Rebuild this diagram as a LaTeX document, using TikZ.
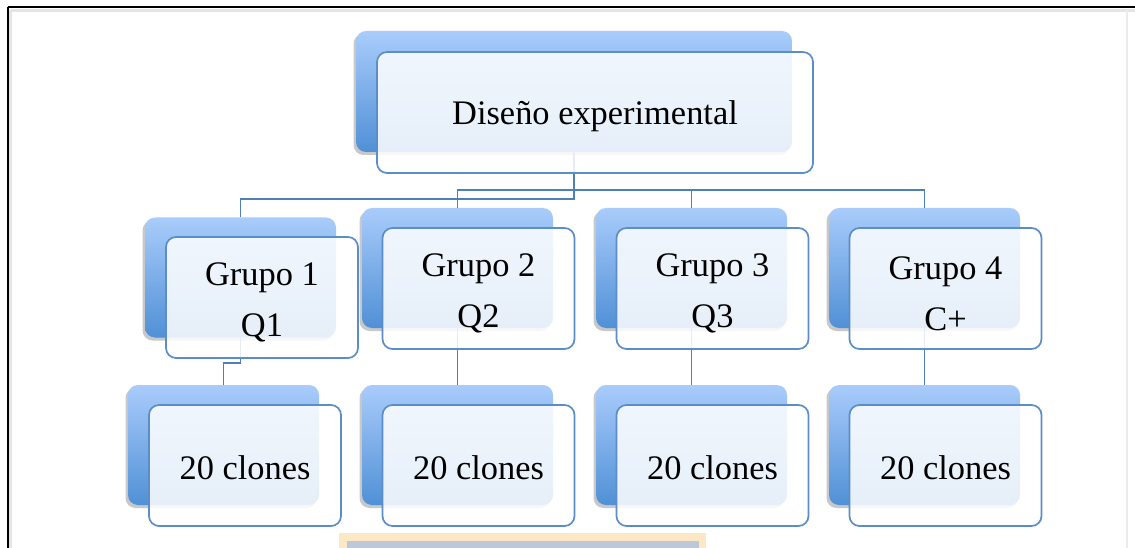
\documentclass[tikz,border=0pt]{standalone}
\usepackage{fontspec}
\setmainfont{Liberation Serif}
\usetikzlibrary{shadows}
\definecolor{backtop}{HTML}{A9CCFB}
\definecolor{backbot}{HTML}{5090D6}
\definecolor{frontline}{HTML}{5B8DC8}
\definecolor{linkblue}{HTML}{4F7FB8}
\definecolor{tanline}{HTML}{FDE8C6}
\definecolor{slatefill}{HTML}{BCC8D9}
\tikzset{
  backbox/.style={rectangle, rounded corners=10pt, minimum width=191pt, minimum height=120pt,
    top color=backtop, bottom color=backbot, draw=none,
    drop shadow={shadow xshift=-2.5pt, shadow yshift=-3pt, opacity=0.3, fill=black!70}},
  bigback/.style={backbox, minimum width=436pt, minimum height=121pt},
  frontbox/.style={rectangle, rounded corners=10pt, minimum width=192pt, minimum height=121pt,
    fill=white, fill opacity=0.86, draw=frontline, line width=1.7pt, inner sep=0pt},
  bigfront/.style={frontbox, minimum width=436pt},
  lbl/.style={align=center, font=\fontsize{34.4}{51}\selectfont, inner sep=0pt, text=black},
  link/.style={draw=linkblue, line width=1.9pt}
}
\begin{document}
\begin{tikzpicture}[x=1pt,y=-1pt]
\useasboundingbox (0,0) rectangle (1135,548);
\clip (0,0) rectangle (1135,548);
\fill[white] (0,0) rectangle (1135,548);
% frame
\draw[black!10, line width=3pt] (10.5,10.5) -- (1135,10.5);
\draw[black!10, line width=3pt] (10.5,10.5) -- (10.5,548);
\draw[black!8, line width=1.5pt] (1127,10) -- (1127,548);
\draw[black, line width=2pt] (8,7) -- (1135,7);
\draw[black, line width=2pt] (8,7) -- (8,548);
% bottom partial box
\fill[tanline] (339,533) rectangle (706,560);
\fill[slatefill] (347,541) rectangle (699,560);
% back boxes
\node[bigback] (b0) at (574,91.5) {};
\node[backbox] (b1) at (240.5,277.5) {};
\node[backbox] (b2) at (457.5,268) {};
\node[backbox] (b3) at (691.5,268) {};
\node[backbox] (b4) at (924.5,268) {};
\node[backbox] (c1) at (223.5,445) {};
\node[backbox] (c2) at (457.5,445) {};
\node[backbox] (c3) at (691.5,445) {};
\node[backbox] (c4) at (924.5,445) {};
% connectors
\coordinate (j1) at (574,199);
\coordinate (j2) at (574,190);
\coordinate (k1) at (240.5,363);
\draw[link] (b0.south) -- (j1) -| (b1.north);
\draw[link] (b0.south) -- (j2) -| (b2.north);
\draw[link] (j2) -| (b3.north);
\draw[link] (j2) -| (b4.north);
\draw[link] (b1.south) -- (k1) -| (c1.north);
\draw[link] (b2.south) -- (c2.north);
\draw[link] (b3.south) -- (c3.north);
\draw[link] (b4.south) -- (c4.north);
% front boxes
\node[bigfront] (f0) at (595,112.5) {};
\node[frontbox] (g1) at (262,297.5) {};
\node[frontbox] (g2) at (478.5,288.5) {};
\node[frontbox] (g3) at (712.5,288.5) {};
\node[frontbox] (g4) at (945.5,288.5) {};
\node[frontbox] (h1) at (245,465.5) {};
\node[frontbox] (h2) at (478.5,465.5) {};
\node[frontbox] (h3) at (712.5,465.5) {};
\node[frontbox] (h4) at (945.5,465.5) {};
% texts
\node[lbl] (t0) at ([yshift=-4pt]f0.center) {Diseño experimental};
\node[lbl] (tg1) at ([yshift=-5pt]g1.center) {Grupo 1\\Q1};
\node[lbl] (tg2) at ([yshift=-5pt]g2.center) {Grupo 2\\Q2};
\node[lbl] (tg3) at ([yshift=-5pt]g3.center) {Grupo 3\\Q3};
\node[lbl] (tg4) at ([yshift=-5pt]g4.center) {Grupo 4\\C+};
\node[lbl] (th1) at ([yshift=-2pt]h1.center) {20 clones};
\node[lbl] (th2) at ([yshift=-2pt]h2.center) {20 clones};
\node[lbl] (th3) at ([yshift=-2pt]h3.center) {20 clones};
\node[lbl] (th4) at ([yshift=-2pt]h4.center) {20 clones};
\end{tikzpicture}
\end{document}
